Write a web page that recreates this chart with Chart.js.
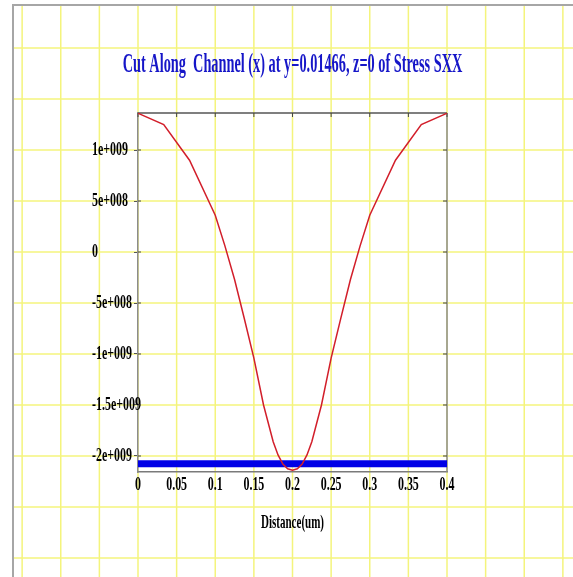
<!DOCTYPE html>
<html lang="en">
<head>
<meta charset="UTF-8" />
<title>Cut Along Channel (x) - Stress SXX</title>
<style>
  html, body { margin: 0; padding: 0; background: #fff; overflow: hidden; }
  canvas { display: block; }
</style>
<script src="https://cdn.jsdelivr.net/npm/chart.js"></script>
</head>
<body>
<canvas id="cut" width="573" height="577"></canvas>
<script>
  // distance along the channel (um) and stress SXX
  const distance = [0, 0.0333, 0.0667, 0.1, 0.1125, 0.125, 0.1375, 0.15, 0.1625, 0.175, 0.18125, 0.1875, 0.19375, 0.2,
                    0.20625, 0.2125, 0.21875, 0.225, 0.2375, 0.25, 0.2625, 0.275, 0.2875, 0.3, 0.3333, 0.3667, 0.4];
  const stressSXX = [1.36e9, 1.25e9, 0.90e9, 0.36e9, 0.06e9, -0.27e9, -0.65e9, -1.04e9, -1.50e9, -1.86e9, -1.99e9, -2.08e9, -2.125e9, -2.14e9,
                     -2.125e9, -2.08e9, -1.99e9, -1.86e9, -1.50e9, -1.04e9, -0.65e9, -0.27e9, 0.06e9, 0.36e9, 0.90e9, 1.25e9, 1.36e9];
  // thick blue reference line near the bottom
  const bandX = [0, 0.4];
  const bandY = [-2.075e9, -2.075e9];

  const xTicks = [0, 0.05, 0.1, 0.15, 0.2, 0.25, 0.3, 0.35, 0.4];
  const xTickLabels = ['0', '0.05', '0.1', '0.15', '0.2', '0.25', '0.3', '0.35', '0.4'];
  const yTicks = [-2e9, -1.5e9, -1e9, -5e8, 0, 5e8, 1e9];
  const yTickLabels = ['-2e+009', '-1.5e+009', '-1e+009', '-5e+008', '0', '5e+008', '1e+009'];

  const TITLE = 'Cut Along  Channel (x) at y=0.01466, z=0 of Stress SXX';
  const X_TITLE = 'Distance(um)';

  const SERIF = "'Liberation Serif', 'Times New Roman', serif";
  const GRID_YELLOW = '#f4f47c';
  const TICK_SQUASH = 0.63;

  // the old plot uses tall narrow lettering, so text is drawn squeezed sideways
  function squashText(ctx, text, x, y, font, color, align, baseline, sq) {
    ctx.save();
    ctx.translate(x, y);
    ctx.scale(sq, 1);
    ctx.font = font;
    ctx.fillStyle = color;
    ctx.textAlign = align;
    ctx.textBaseline = baseline;
    ctx.fillText(text, 0, 0);
    ctx.restore();
  }

  class SquashedScale extends Chart.LinearScale {
    drawLabels(chartArea) {
      if (!this.options.ticks.display) return;
      const ctx = this.ctx;
      for (const item of this.getLabelItems(chartArea)) {
        const o = item.options;
        ctx.save();
        ctx.translate(o.translation[0], o.translation[1]);
        ctx.rotate(o.rotation);
        squashText(ctx, item.label, 0, item.textOffset, item.font.string, o.color, o.textAlign, o.textBaseline, TICK_SQUASH);
        ctx.restore();
      }
    }
  }
  SquashedScale.id = 'squashed';
  Chart.register(SquashedScale);

  // graph paper behind everything, plus the frame and the top/right sides of the box
  const paperGrid = {
    id: 'paperGrid',
    beforeDraw(chart) {
      const { ctx, width, height, scales: { x, y } } = chart;
      const left = 13, top = 5;
      ctx.save();
      ctx.fillStyle = '#fff';
      ctx.fillRect(0, 0, width, height);
      ctx.strokeStyle = GRID_YELLOW;
      ctx.lineWidth = 1.5;
      for (let k = -4; k <= 12; k++) {
        const px = x.getPixelForValue(k * 0.05);
        if (px <= left || px >= width) continue;
        ctx.beginPath(); ctx.moveTo(px, top); ctx.lineTo(px, height); ctx.stroke();
      }
      for (let k = -8; k <= 6; k++) {
        const py = y.getPixelForValue(k * 5e8);
        if (py <= top || py >= height) continue;
        ctx.beginPath(); ctx.moveTo(left, py); ctx.lineTo(width, py); ctx.stroke();
      }
      ctx.strokeStyle = '#a6a6a6';
      ctx.lineWidth = 2;
      ctx.beginPath();
      ctx.moveTo(width, top); ctx.lineTo(left, top); ctx.lineTo(left, height);
      ctx.stroke();
      ctx.restore();
    },
    beforeDatasetsDraw(chart) {
      const { ctx, chartArea: a, scales: { x, y } } = chart;
      ctx.save();
      ctx.lineWidth = 1.5;
      ctx.strokeStyle = '#555';
      ctx.beginPath(); ctx.moveTo(a.left, a.top); ctx.lineTo(a.right, a.top); ctx.stroke();
      ctx.strokeStyle = '#8c8c8c';
      ctx.beginPath(); ctx.moveTo(a.right, a.top); ctx.lineTo(a.right, a.bottom); ctx.stroke();
      ctx.strokeStyle = '#444';
      ctx.lineWidth = 1;
      x.ticks.forEach(t => {
        const px = x.getPixelForValue(t.value);
        ctx.beginPath(); ctx.moveTo(px, a.top); ctx.lineTo(px, a.top + 4); ctx.stroke();
      });
      y.ticks.forEach(t => {
        const py = y.getPixelForValue(t.value);
        ctx.beginPath(); ctx.moveTo(a.right, py); ctx.lineTo(a.right - 4, py); ctx.stroke();
        ctx.beginPath(); ctx.moveTo(a.left, py); ctx.lineTo(a.left + 3, py); ctx.stroke();
      });
      ctx.restore();
    },
    afterDraw(chart) {
      const { ctx, chartArea: a } = chart;
      const cx = (a.left + a.right) / 2;
      squashText(ctx, TITLE, cx, a.top - 41, 'bold 27px ' + SERIF, '#1616c8', 'center', 'alphabetic', 0.53);
      squashText(ctx, X_TITLE, cx, a.bottom + 56, 'bold 19px ' + SERIF, '#000', 'center', 'alphabetic', 0.58);
    }
  };

  const tickFont = { family: SERIF, weight: 'bold', size: 19 };

  new Chart(document.getElementById('cut'), {
    type: 'line',
    data: {
      datasets: [
        {
          label: 'SXX',
          data: distance.map((d, i) => ({ x: d, y: stressSXX[i] })),
          borderColor: '#d21e2a',
          borderWidth: 1.5,
          pointRadius: 0,
          tension: 0
        },
        {
          label: 'band',
          data: bandX.map((d, i) => ({ x: d, y: bandY[i] })),
          borderColor: '#0000e6',
          borderWidth: 7,
          pointRadius: 0
        }
      ]
    },
    options: {
      responsive: false,
      animation: false,
      layout: { padding: { left: 92, right: 126, top: 113, bottom: 75 } },
      plugins: { legend: { display: false }, tooltip: { enabled: false } },
      scales: {
        x: {
          type: 'squashed',
          min: 0,
          max: 0.4,
          afterBuildTicks: s => { s.ticks = xTicks.map(v => ({ value: v })); },
          afterFit: s => { s.height = 30; },
          grid: { display: false },
          border: { display: true, color: '#7a7a7a', width: 1.5 },
          ticks: {
            autoSkip: false,
            maxRotation: 0,
            padding: -6,
            color: '#000',
            font: tickFont,
            callback: v => xTickLabels[xTicks.indexOf(v)]
          }
        },
        y: {
          type: 'squashed',
          min: -2.157e9,
          max: 1.363e9,
          afterBuildTicks: s => { s.ticks = yTicks.map(v => ({ value: v })); },
          afterFit: s => { s.width = 46; },
          grid: { display: true, drawOnChartArea: false, drawTicks: true, tickLength: 4, color: '#555' },
          border: { display: true, color: '#8c8c8c', width: 1.5 },
          ticks: {
            crossAlign: 'far',
            padding: 0,
            color: '#000',
            font: tickFont,
            callback: v => yTickLabels[yTicks.indexOf(v)]
          }
        }
      }
    },
    plugins: [paperGrid]
  });
</script>
</body>
</html>
